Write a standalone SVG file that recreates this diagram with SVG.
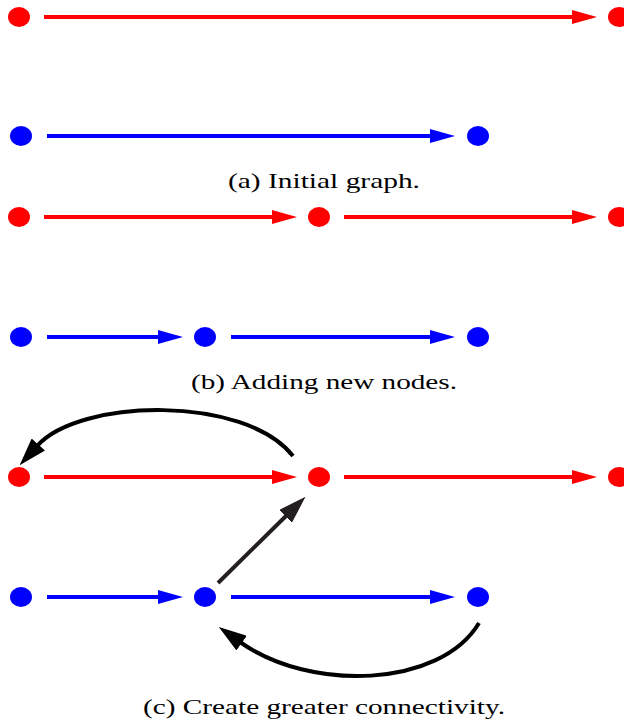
<svg xmlns="http://www.w3.org/2000/svg" width="624" height="725" viewBox="0 0 624 725">
<defs>
<style>
.r{fill:#ff0000}
.b{fill:#0000ff}
.er{stroke:#ff0000;stroke-width:4;fill:none}
.eb{stroke:#0000ff;stroke-width:4;fill:none}
.ek{stroke:#000;stroke-width:4;fill:none}
.cap{font-family:"Liberation Serif","DejaVu Serif",serif;font-size:22px;fill:#000;text-anchor:middle}
</style>
<marker id="ar" markerUnits="userSpaceOnUse" viewBox="0 0 25 14" refX="0" refY="7" markerWidth="25" markerHeight="14" orient="auto"><path d="M0,0L25,7L0,14z" fill="#ff0000"/></marker>
<marker id="ab" markerUnits="userSpaceOnUse" viewBox="0 0 25 14" refX="0" refY="7" markerWidth="25" markerHeight="14" orient="auto"><path d="M0,0L25,7L0,14z" fill="#0000ff"/></marker>
<marker id="ak" markerUnits="userSpaceOnUse" viewBox="0 0 28 18" refX="2" refY="9" markerWidth="28" markerHeight="18" orient="auto"><path d="M0,0L28,9L0,18z" fill="#000"/></marker>
<marker id="ad" markerUnits="userSpaceOnUse" viewBox="0 0 28 18" refX="2" refY="9" markerWidth="28" markerHeight="18" orient="auto"><path d="M0,0L28,9L0,18z" fill="#231f20"/></marker>
</defs>
<g id="connectors">
<line class="er" x1="44" y1="17" x2="572" y2="17" marker-end="url(#ar)"/>
<line class="eb" x1="47" y1="136" x2="430" y2="136" marker-end="url(#ab)"/>
<line class="er" x1="44" y1="217" x2="272" y2="217" marker-end="url(#ar)"/>
<line class="er" x1="344" y1="217" x2="572" y2="217" marker-end="url(#ar)"/>
<line class="eb" x1="47" y1="337" x2="158" y2="337" marker-end="url(#ab)"/>
<line class="eb" x1="231" y1="337" x2="430" y2="337" marker-end="url(#ab)"/>
<line class="er" x1="44" y1="477" x2="272" y2="477" marker-end="url(#ar)"/>
<line class="er" x1="344" y1="477" x2="572" y2="477" marker-end="url(#ar)"/>
<line class="eb" x1="47" y1="597" x2="158" y2="597" marker-end="url(#ab)"/>
<line class="eb" x1="231" y1="597" x2="430" y2="597" marker-end="url(#ab)"/>
<path class="ek" d="M293,456 C245,395 80,398 37,446" marker-end="url(#ak)"/>
<line x1="218" y1="583" x2="287" y2="515" stroke="#231f20" stroke-width="4" marker-end="url(#ad)"/>
<path class="ek" d="M479,623 C440,688 310,692 240,642" marker-end="url(#ak)"/>
</g>
<g id="a-red-1"><ellipse class="r" cx="19" cy="17" rx="11" ry="10"/></g>
<g id="a-red-2"><ellipse class="r" cx="619" cy="17" rx="11" ry="10"/></g>
<g id="a-blue-1"><ellipse class="b" cx="21" cy="136" rx="11" ry="10"/></g>
<g id="a-blue-2"><ellipse class="b" cx="478" cy="136" rx="11" ry="10"/></g>
<g id="b-red-1"><ellipse class="r" cx="19" cy="217" rx="11" ry="10"/></g>
<g id="b-red-2"><ellipse class="r" cx="319" cy="217" rx="11" ry="10"/></g>
<g id="b-red-3"><ellipse class="r" cx="619" cy="217" rx="11" ry="10"/></g>
<g id="b-blue-1"><ellipse class="b" cx="21" cy="337" rx="11" ry="10"/></g>
<g id="b-blue-2"><ellipse class="b" cx="205" cy="337" rx="11" ry="10"/></g>
<g id="b-blue-3"><ellipse class="b" cx="478" cy="337" rx="11" ry="10"/></g>
<g id="c-red-1"><ellipse class="r" cx="19" cy="477" rx="11" ry="10"/></g>
<g id="c-red-2"><ellipse class="r" cx="319" cy="477" rx="11" ry="10"/></g>
<g id="c-red-3"><ellipse class="r" cx="619" cy="477" rx="11" ry="10"/></g>
<g id="c-blue-1"><ellipse class="b" cx="21" cy="597" rx="11" ry="10"/></g>
<g id="c-blue-2"><ellipse class="b" cx="205" cy="597" rx="11" ry="10"/></g>
<g id="c-blue-3"><ellipse class="b" cx="478" cy="597" rx="11" ry="10"/></g>
<g id="captions">
<text class="cap" x="324" y="188" textLength="192" lengthAdjust="spacingAndGlyphs">(a) Initial graph.</text>
<text class="cap" x="324" y="389" textLength="266" lengthAdjust="spacingAndGlyphs">(b) Adding new nodes.</text>
<text class="cap" x="324" y="714" textLength="362" lengthAdjust="spacingAndGlyphs">(c) Create greater connectivity.</text>
</g>
</svg>
